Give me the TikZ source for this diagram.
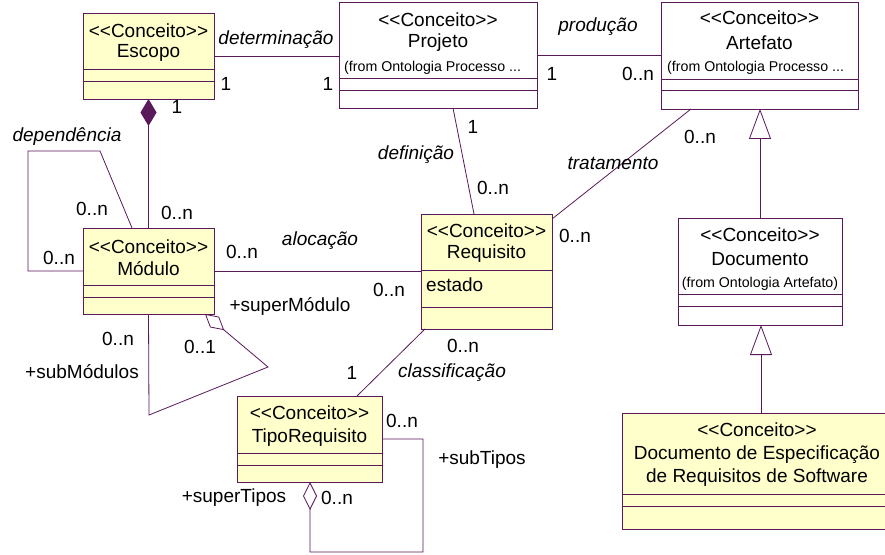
\documentclass[tikz,border=0pt]{standalone}
\usepackage{fontspec}
\setmainfont{Liberation Sans}
\usetikzlibrary{arrows.meta,calc}
\definecolor{lc}{RGB}{90,25,90}
\definecolor{yel}{RGB}{255,255,204}
\newcommand\cncpt{<\kern0pt<Conceito>\kern0pt>}
\begin{document}
\begin{tikzpicture}[x=1bp,y=-1bp,
 cls/.style={draw=lc, line width=0.9bp, anchor=north west, inner sep=0pt, outer sep=0pt},
 cline/.style={draw=lc, line width=0.9bp},
 conn/.style={draw=lc, line width=0.8bp},
 txt/.style={inner sep=0pt, font=\fontsize{19bp}{21bp}\selectfont},
 sm/.style={inner sep=0pt, font=\fontsize{14.2bp}{16bp}\selectfont},
 lab/.style={inner sep=0pt, font=\fontsize{19bp}{21bp}\selectfont\itshape},
 mult/.style={inner sep=0pt, font=\fontsize{19bp}{21bp}\selectfont},
]
\useasboundingbox (0,0) rectangle (885,555);
\clip (0,0) rectangle (885,555);
\fill[white] (0,0) rectangle (885,555);

% class boxes
\node[cls, fill=yel, minimum width=131bp, minimum height=86bp] (esc) at (83,13) {};
\node[cls, fill=white, minimum width=198bp, minimum height=106bp] (proj) at (339,2) {};
\node[cls, fill=white, minimum width=197bp, minimum height=107bp] (art) at (661,2) {};
\node[cls, fill=yel, minimum width=131bp, minimum height=86bp] (mod) at (83,228) {};
\node[cls, fill=yel, minimum width=131bp, minimum height=115bp] (req) at (421,214) {};
\node[cls, fill=white, minimum width=164bp, minimum height=107bp] (doc) at (678,218) {};
\node[cls, fill=yel, minimum width=278bp, minimum height=116bp] (des) at (622,413) {};
\node[cls, fill=yel, minimum width=145bp, minimum height=86bp] (tipo) at (237,396) {};

% compartments
\foreach \n/\a/\b in {esc/69/81, proj/78/90, art/79/90, mod/285/297, req/270/307, doc/294/306, des/494/506, tipo/453/465}{
  \draw[cline] (\n.west |- 0,\a) -- (\n.east |- 0,\a);
  \draw[cline] (\n.west |- 0,\b) -- (\n.east |- 0,\b);
}

% class texts
\node[txt] (escS) at (148.5,31) {\cncpt};
\node[txt] (escN) at (148.5,53) {Escopo};
\node[txt] (projS) at (438,20) {\cncpt};
\node[txt] (projN) at (438,43) {Projeto};
\node[sm, anchor=west] (projF) at (344,68) {(from Ontologia Processo ...};
\node[txt] (artS) at (759.5,18) {\cncpt};
\node[txt] (artN) at (759.5,43) {Artefato};
\node[sm, anchor=west] (artF) at (667,68) {(from Ontologia Processo ...};
\node[txt] (modS) at (148.5,247) {\cncpt};
\node[txt] (modN) at (148.5,269) {Módulo};
\node[txt] (reqS) at (486.5,231) {\cncpt};
\node[txt] (reqN) at (486.5,254) {Requisito};
\node[txt, anchor=west] (reqA) at (426,285) {estado};
\node[txt] (docS) at (760,235) {\cncpt};
\node[txt] (docN) at (760,259) {Documento};
\node[sm] (docF) at (760,284) {(from Ontologia Artefato)};
\node[txt] (desS) at (757,430) {\cncpt};
\node[txt] (desN1) at (757,455) {Documento de Especificação};
\node[txt] (desN2) at (757,478) {de Requisitos de Software};
\node[txt] (tipoS) at (309.5,413) {\cncpt};
\node[txt] (tipoN) at (309.5,438) {TipoRequisito};

% connectors
\draw[conn] (esc.east) -- (esc.east -| proj.west);
\draw[conn] (proj.east) -- (proj.east -| art.west);
\draw[conn, {Diamond[length=27bp,width=16bp,fill=lc]}-] (esc.south) -- (mod.north);
\draw[conn] ($(mod.north west)+(49,0)$) -- (100,151) -- (28,151) -- (28,271) -- (mod.west);
\draw[conn] (mod.east) -- (mod.east -| req.west);
\draw[conn, {Diamond[open,length=25bp,width=14bp]}-] ($(mod.south west)+(122,0)$) -- (268,367) -- (149,415) -- (mod.south);
\draw[conn] ($(proj.south west)+(114,0)$) -- ($(req.north west)+(53,0)$);
\draw[conn] ($(art.south west)+(30,0)$) -- ($(req.north east)+(0,5)$);
\draw[conn, -{Triangle[open,length=30bp,width=22bp]}] (doc.north) -- (doc.north |- art.south);
\draw[conn, -{Triangle[open,length=30bp,width=22bp]}] (des.north) -- (des.north |- doc.south);
\draw[conn] ($(req.south west)+(4,0)$) -- ($(tipo.north east)+(-25,0)$);
\draw[conn, -{Diamond[open,length=28bp,width=14bp]}] (tipo.east) -- (423,439) -- (423,552) -- (310,552) -- ($(tipo.south west)+(73,0)$);

% labels
\node[lab] (l1) at (276,40) {determinação};
\node[mult] (m1) at (226,84) {1};
\node[mult] (m2) at (328,84) {1};
\node[lab] (l2) at (598,27) {produção};
\node[mult] (m3) at (552,74) {1};
\node[mult] (m4) at (638,74) {0..n};
\node[mult] (m5) at (177,107) {1};
\node[lab] (l3) at (67,137) {dependência};
\node[mult] (m6) at (92,209) {0..n};
\node[mult] (m7) at (59,258) {0..n};
\node[mult] (m8) at (177,213) {0..n};
\node[lab] (l4) at (320,241) {alocação};
\node[mult] (m9) at (242,252) {0..n};
\node[mult] (m10) at (389,290) {0..n};
\node[txt] (r1) at (290,306) {+superMódulo};
\node[mult] (m11) at (200,347) {0..1};
\node[mult] (m12) at (118,339) {0..n};
\node[txt] (r2) at (82,372) {+subMódulos};
\node[lab] (l5) at (416,155) {definição};
\node[mult] (m13) at (473,127) {1};
\node[mult] (m14) at (493,188) {0..n};
\node[lab] (l6) at (613,163) {tratamento};
\node[mult] (m15) at (700,137) {0..n};
\node[mult] (m16) at (575,236) {0..n};
\node[lab] (l7) at (452,373) {classificação};
\node[mult] (m17) at (352,373) {1};
\node[mult] (m18) at (463,346) {0..n};
\node[mult] (m19) at (402,421) {0..n};
\node[txt] (r3) at (482,460) {+subTipos};
\node[txt] (r4) at (234,498) {+superTipos};
\node[mult] (m20) at (337,498) {0..n};
\end{tikzpicture}
\end{document}
